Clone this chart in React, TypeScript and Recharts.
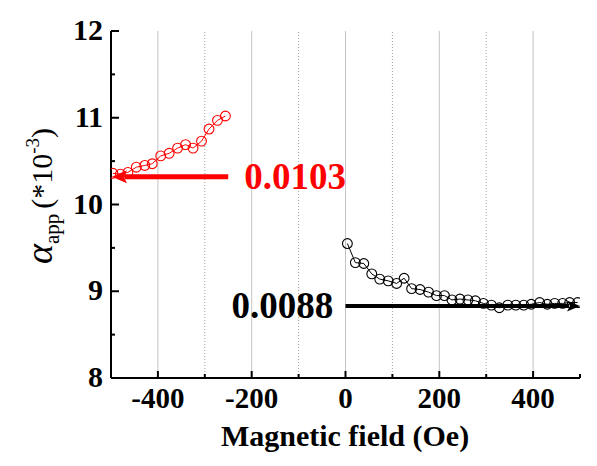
import React from 'react';
import { ComposedChart, Scatter, XAxis, YAxis, ReferenceLine, ReferenceDot } from 'recharts';

const redSeries = [
  { x: -496, y: 10.36 }, { x: -480, y: 10.35 }, { x: -464, y: 10.37 }, { x: -446, y: 10.43 },
  { x: -428, y: 10.45 }, { x: -412, y: 10.47 }, { x: -394, y: 10.56 }, { x: -376, y: 10.59 },
  { x: -358, y: 10.65 }, { x: -341, y: 10.69 }, { x: -325, y: 10.65 }, { x: -307, y: 10.73 },
  { x: -291, y: 10.87 }, { x: -273, y: 10.97 }, { x: -256, y: 11.02 },
];

const blackSeries = [
  { x: 4, y: 9.55 }, { x: 21, y: 9.33 }, { x: 39, y: 9.32 }, { x: 56, y: 9.2 }, { x: 73, y: 9.14 },
  { x: 91, y: 9.12 }, { x: 109, y: 9.09 }, { x: 125, y: 9.15 }, { x: 141, y: 9.03 }, { x: 159, y: 9.02 },
  { x: 177, y: 8.99 }, { x: 194, y: 8.95 }, { x: 211, y: 8.95 }, { x: 227, y: 8.9 }, { x: 244, y: 8.91 },
  { x: 261, y: 8.9 }, { x: 277, y: 8.89 }, { x: 294, y: 8.86 }, { x: 311, y: 8.84 }, { x: 328, y: 8.81 },
  { x: 346, y: 8.84 }, { x: 363, y: 8.84 }, { x: 380, y: 8.84 }, { x: 396, y: 8.85 }, { x: 414, y: 8.87 },
  { x: 430, y: 8.85 }, { x: 446, y: 8.86 }, { x: 463, y: 8.86 }, { x: 478, y: 8.87 }, { x: 495, y: 8.87 },
];

const xMajorTicks = [-400, -200, 0, 200, 400];
const xMinorTicks = [-500, -300, -100, 100, 300, 500];
const yMajorTicks = [8, 9, 10, 11, 12];
const yMinorTicks = [8.5, 9.5, 10.5, 11.5];
const xDomain = [-500, 500];
const yDomain = [8, 12];

const redLevel = 10.32;
const redArrowFrom = -250;
const redArrowTo = -498;
const redLabelX = -216;
const redLabel = '0.0103';

const blackLevel = 8.83;
const blackArrowFrom = 0;
const blackArrowTo = 500;
const blackLabelX = -26;
const blackLabel = '0.0088';

const xTitle = 'Magnetic field (Oe)';

const FONT = '"Liberation Serif", "Times New Roman", serif';
const RED = '#ff0000';

const allX = [...xMinorTicks, ...xMajorTicks].sort((a, b) => a - b);
const allY = [...yMinorTicks, ...yMajorTicks].sort((a, b) => a - b);

const XTickBottom = (props: any) => {
  const { x, y, payload } = props;
  const major = xMajorTicks.includes(payload.value);
  return (
    <g>
      <line x1={x} x2={x} y1={y} y2={y - (major ? 7 : 4)} stroke="#000" strokeWidth={2} />
      {major && (
        <text x={x} y={y + 30} textAnchor="middle" fontFamily={FONT} fontWeight="bold" fontSize={29} fill="#000">
          {payload.value}
        </text>
      )}
    </g>
  );
};

const XTickTop = (props: any) => {
  const { x, y, payload } = props;
  const major = xMajorTicks.includes(payload.value);
  return <line x1={x} x2={x} y1={y} y2={y + (major ? 7 : 4)} stroke="#000" strokeWidth={2} />;
};

const YTickLeft = (props: any) => {
  const { x, y, payload } = props;
  const major = yMajorTicks.includes(payload.value);
  return (
    <g>
      <line x1={x} x2={x + (major ? 8 : 4)} y1={y} y2={y} stroke="#000" strokeWidth={2} />
      {major && (
        <text x={x - 8} y={y} dy={9} textAnchor="end" fontFamily={FONT} fontWeight="bold" fontSize={30} fill="#000">
          {payload.value}
        </text>
      )}
    </g>
  );
};

const YTickRight = (props: any) => {
  const { x, y, payload } = props;
  const major = yMajorTicks.includes(payload.value);
  return <line x1={x} x2={x - (major ? 8 : 4)} y1={y} y2={y} stroke="#000" strokeWidth={2} />;
};

const makeArrow = (color: string, width: number, headLen: number, headHalf: number) => (p: any) => {
  const { x1, y1, x2, y2 } = p;
  const dx = x2 - x1;
  const dy = y2 - y1;
  const len = Math.sqrt(dx * dx + dy * dy) || 1;
  const ux = dx / len;
  const uy = dy / len;
  const bx = x2 - ux * headLen;
  const by = y2 - uy * headLen;
  const px = -uy;
  const py = ux;
  return (
    <g>
      <line x1={x1} y1={y1} x2={bx + ux * 2} y2={by + uy * 2} stroke={color} strokeWidth={width} />
      <polygon
        points={`${x2},${y2} ${bx + px * headHalf},${by + py * headHalf} ${bx + ux * 3},${by + uy * 3} ${bx - px * headHalf},${by - py * headHalf}`}
        fill={color}
      />
    </g>
  );
};

const makeCircle = (color: string) => (p: any) => (
  <circle cx={p.cx} cy={p.cy} r={4.9} fill="none" stroke={color} strokeWidth={1.1} />
);

const makeLabel = (text: string, color: string, anchor: string) => (p: any) => (
  <text x={p.cx} y={p.cy} dy={12} textAnchor={anchor} fontFamily={FONT} fontWeight="bold" fontSize={37} fill={color}>
    {text}
  </text>
);

export default function App() {
  return (
    <div style={{ position: 'absolute', left: 0, top: 0, background: '#fff' }}>
      <ComposedChart width={597} height={466} margin={{ top: 31, right: 17, bottom: 28, left: 0 }}>
        <XAxis
          dataKey="x"
          type="number"
          domain={xDomain}
          ticks={allX}
          interval={0}
          tickSize={0}
          tickMargin={0}
          tickLine={false}
          axisLine={{ stroke: '#000', strokeWidth: 2 }}
          tick={<XTickBottom />}
          height={60}
          allowDataOverflow
        />
        <XAxis
          xAxisId="top"
          orientation="top"
          type="number"
          domain={xDomain}
          ticks={allX}
          interval={0}
          tickSize={0}
          tickMargin={0}
          tickLine={false}
          axisLine={{ stroke: '#000', strokeWidth: 2 }}
          tick={<XTickTop />}
          height={0}
          allowDataOverflow
        />
        <YAxis
          dataKey="y"
          type="number"
          domain={yDomain}
          ticks={allY}
          interval={0}
          tickSize={0}
          tickMargin={0}
          tickLine={false}
          axisLine={{ stroke: '#000', strokeWidth: 2 }}
          tick={<YTickLeft />}
          width={111}
          allowDataOverflow
          label={{
            content: () => (
              <text
                x={52}
                y={196}
                textAnchor="middle"
                transform="rotate(-90, 52, 196)"
                fontFamily={FONT}
                fill="#000"
              >
                <tspan fontStyle="italic" fontSize={38}>α</tspan>
                <tspan fontSize={21} dy={7}>app</tspan>
                <tspan fontSize={30} dy={-7} dx={5}>(*10</tspan>
                <tspan fontSize={19} dy={-13}>-3</tspan>
                <tspan fontSize={30} dy={13}>)</tspan>
              </text>
            ),
          }}
        />
        <YAxis
          yAxisId="right"
          orientation="right"
          type="number"
          domain={yDomain}
          ticks={allY}
          interval={0}
          tickSize={0}
          tickMargin={0}
          tickLine={false}
          axisLine={{ stroke: '#000', strokeWidth: 2 }}
          tick={<YTickRight />}
          width={0}
          allowDataOverflow
        />
        {xMajorTicks.map((v) => (
          <ReferenceLine key={'gM' + v} x={v} stroke="#c4c4c4" strokeWidth={1} />
        ))}
        {xMinorTicks.filter((v) => v > xDomain[0] && v < xDomain[1]).map((v) => (
          <ReferenceLine key={'gm' + v} x={v} stroke="#a0a0a0" strokeWidth={1} strokeDasharray="1 2" />
        ))}
        <Scatter
          data={redSeries}
          line={{ stroke: RED, strokeWidth: 1 }}
          shape={makeCircle(RED)}
          isAnimationActive={false}
        />
        <Scatter
          data={blackSeries}
          line={{ stroke: '#000', strokeWidth: 1 }}
          shape={makeCircle('#000')}
          isAnimationActive={false}
        />
        <ReferenceLine
          segment={[{ x: redArrowFrom, y: redLevel }, { x: redArrowTo, y: redLevel }]}
          ifOverflow="visible"
          shape={makeArrow(RED, 5, 15, 6.5)}
        />
        <ReferenceLine
          segment={[{ x: blackArrowFrom, y: blackLevel }, { x: blackArrowTo, y: blackLevel }]}
          ifOverflow="visible"
          shape={makeArrow('#000', 4, 13, 5.5)}
        />
        <ReferenceDot x={redLabelX} y={redLevel} r={1} ifOverflow="visible" shape={makeLabel(redLabel, RED, 'start')} />
        <ReferenceDot x={blackLabelX} y={blackLevel} r={1} ifOverflow="visible" shape={makeLabel(blackLabel, '#000', 'end')} />
        <text x={345} y={446} textAnchor="middle" fontFamily={FONT} fontWeight="bold" fontSize={30} fill="#000">
          {xTitle}
        </text>
      </ComposedChart>
    </div>
  );
}
